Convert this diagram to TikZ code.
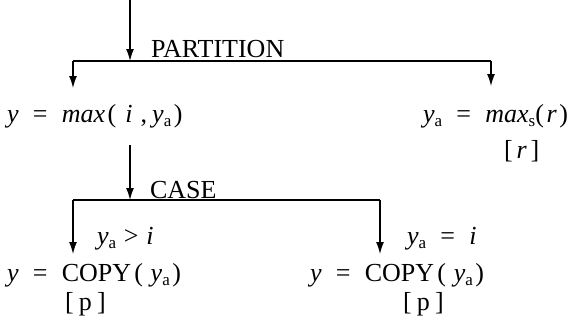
\documentclass[tikz,border=0pt]{standalone}
\usepackage{fontspec}
\setmainfont{Liberation Serif}
\usetikzlibrary{arrows.meta}
\newcommand{\sbs}[1]{\raisebox{-0.35ex}{\fontsize{17}{17}\selectfont #1}}
\newcommand{\iv}[1]{\textit{#1}}
\newcommand{\eqs}[1]{\hspace{0.55em}#1\hspace{0.55em}}
\newcommand{\gp}[1]{\hspace{#1em}}
\tikzset{
  lbl/.style={inner sep=0pt, outer sep=0pt, font=\fontsize{26}{30}\selectfont},
  arr/.style={line width=1.3pt, -{Latex[length=12pt,width=8pt]}},
  ln/.style={line width=1.3pt},
}
\begin{document}
\begin{tikzpicture}[x=1pt,y=-1pt]
\useasboundingbox (0,0) rectangle (570,333);
% texts
\node[lbl, anchor=base west] (part) at (151,57) {PARTITION};
\node[lbl, anchor=base west] (e1) at (7,122) {\iv{y}\eqs{=}\iv{max}\gp{0.1}(\gp{0.35}\iv{i}\gp{0.3},\gp{0.2}\iv{y}\sbs{a}\gp{0.1})};
\node[lbl, anchor=base east] (e2) at (568,122) {\iv{y}\sbs{a}\eqs{=}\iv{max}\sbs{s}(\gp{0.1}\iv{r}\gp{0.1})};
\node[lbl, anchor=base west] (r) at (504,158) {[\gp{0.15}\iv{r}\gp{0.15}]};
\node[lbl, anchor=base west] (case) at (150,198) {CASE};
\node[lbl, anchor=base west] (c1) at (97,244) {\iv{y}\sbs{a}\gp{0.3}>\gp{0.3}\iv{i}};
\node[lbl, anchor=base west] (c2) at (407,244) {\iv{y}\sbs{a}\eqs{=}\iv{i}};
\node[lbl, anchor=base west] (e3) at (7,281) {\iv{y}\eqs{=}COPY\gp{0.12}(\gp{0.3}\iv{y}\sbs{a}\gp{0.1})};
\node[lbl, anchor=base west] (e4) at (310,281) {\iv{y}\eqs{=}COPY\gp{0.12}(\gp{0.3}\iv{y}\sbs{a}\gp{0.1})};
\node[lbl, anchor=base west] (p1) at (65,310) {[\gp{0.2}p\gp{0.2}]};
\node[lbl, anchor=base west] (p2) at (403,310) {[\gp{0.2}p\gp{0.2}]};
% coordinates
\coordinate (top) at (130,0);
\coordinate (j1) at (130,61);
\coordinate (l1) at (73,61);
\coordinate (r1) at (491,61);
\coordinate (t1) at (73,88);
\coordinate (t2) at (491,86);
\coordinate (s2) at (130,145);
\coordinate (j2) at (130,200);
\coordinate (l2) at (73,200);
\coordinate (r2) at (380,200);
\coordinate (t3) at (73,254);
\coordinate (t4) at (380,254);
% connectors
\draw[arr] (top) -- (j1);
\draw[ln] (l1) -- (r1);
\draw[arr] (l1) -- (t1);
\draw[arr] (r1) -- (t2);
\draw[arr] (s2) -- (j2);
\draw[ln] (l2) -- (r2);
\draw[arr] (l2) -- (t3);
\draw[arr] (r2) -- (t4);
\end{tikzpicture}
\end{document}
